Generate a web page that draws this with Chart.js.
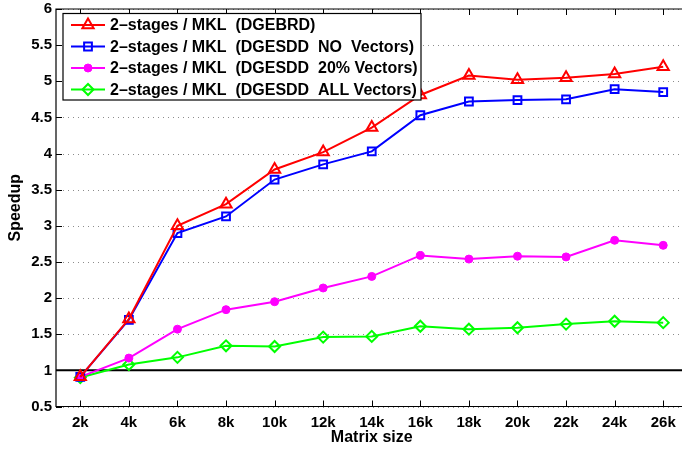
<!DOCTYPE html>
<html>
<head>
<meta charset="utf-8">
<title>Speedup</title>
<script src="https://cdn.jsdelivr.net/npm/chart.js"></script>
<style>
    html, body { margin: 0; padding: 0; background: #fff; overflow: hidden; }
    #wrap { width: 696px; height: 451px; }
</style>
</head>
<body>
<div id="wrap"><canvas id="speedupChart" width="696" height="451"></canvas></div>
<script>
// Matrix sizes (x axis) and speedup values per configuration
const sizes = ['2k', '4k', '6k', '8k', '10k', '12k', '14k', '16k', '18k', '20k', '22k', '24k', '26k'];
const gebrd = [0.91, 1.71, 3.0, 3.3, 3.78, 4.02, 4.36, 4.81, 5.08, 5.02, 5.05, 5.1, 5.2];
const noVectors = [0.91, 1.70, 2.9, 3.13, 3.64, 3.85, 4.03, 4.53, 4.72, 4.74, 4.75, 4.89, 4.85];
const vectors20 = [0.91, 1.17, 1.57, 1.84, 1.95, 2.14, 2.30, 2.59, 2.54, 2.58, 2.57, 2.80, 2.73];
const allVectors = [0.90, 1.08, 1.18, 1.34, 1.33, 1.46, 1.47, 1.61, 1.57, 1.59, 1.64, 1.68, 1.66];
const labels = [
    '2\u2013stages / MKL  (DGEBRD)',
    '2\u2013stages / MKL  (DGESDD  NO  Vectors)',
    '2\u2013stages / MKL  (DGESDD  20% Vectors)',
    '2\u2013stages / MKL  (DGESDD  ALL Vectors)'
];
const yMin = 0.5, yMax = 6, yStep = 0.5;
const baseline = 1;

const FONT = "'Liberation Sans', Arial, Helvetica, sans-serif";

// Dotted grid, box, inward tick marks and the speedup = 1 reference line
const framePlugin = {
    id: 'frame',
    beforeDatasetsDraw(chart) {
        const { ctx, chartArea: a, scales: { x, y } } = chart;
        ctx.save();

        ctx.strokeStyle = '#8c8c8c';
        ctx.lineWidth = 1;
        ctx.setLineDash([1, 4]);
        ctx.beginPath();
        y.ticks.forEach((t, i) => {
            const py = Math.round(y.getPixelForTick(i)) + 0.5;
            ctx.moveTo(a.left + 2, py);
            ctx.lineTo(a.right, py);
        });
        ctx.stroke();
        ctx.setLineDash([]);

        ctx.strokeStyle = '#000';
        ctx.lineWidth = 2;
        const yb = y.getPixelForValue(baseline);
        ctx.beginPath();
        ctx.moveTo(a.left, yb);
        ctx.lineTo(a.right, yb);
        ctx.stroke();

        ctx.lineWidth = 1.2;
        ctx.beginPath();
        ctx.moveTo(a.right + 5, a.top);
        ctx.lineTo(a.left, a.top);
        ctx.lineTo(a.left, a.bottom);
        ctx.lineTo(a.right + 5, a.bottom);
        ctx.stroke();

        ctx.lineWidth = 1;
        ctx.beginPath();
        x.ticks.forEach((t, i) => {
            const px = Math.round(x.getPixelForTick(i)) + 0.5;
            ctx.moveTo(px, a.top);
            ctx.lineTo(px, a.top + 6);
            ctx.moveTo(px, a.bottom);
            ctx.lineTo(px, a.bottom - 6);
        });
        y.ticks.forEach((t, i) => {
            const py = Math.round(y.getPixelForTick(i)) + 0.5;
            ctx.moveTo(a.left, py);
            ctx.lineTo(a.left + 6, py);
        });
        ctx.stroke();
        ctx.restore();
    }
};

// Boxed legend in the upper left corner of the plot
const legendBoxPlugin = {
    id: 'legendBox',
    afterDraw(chart) {
        const { ctx } = chart;
        const box = { left: 63, top: 13.5, right: 421, bottom: 100 };
        const rows = [25, 46.5, 68, 89.5];
        ctx.save();
        ctx.fillStyle = '#fff';
        ctx.fillRect(box.left, box.top, box.right - box.left, box.bottom - box.top);
        ctx.strokeStyle = '#000';
        ctx.lineWidth = 1.2;
        ctx.strokeRect(box.left, box.top, box.right - box.left, box.bottom - box.top);

        chart.data.datasets.forEach((ds, i) => {
            const ry = rows[i];
            ctx.strokeStyle = ds.borderColor;
            ctx.lineWidth = ds.borderWidth;
            ctx.beginPath();
            ctx.moveTo(71, ry);
            ctx.lineTo(105, ry);
            ctx.stroke();
            ctx.fillStyle = ds.pointBackgroundColor;
            ctx.strokeStyle = ds.pointBorderColor;
            ctx.lineWidth = ds.pointBorderWidth;
            Chart.helpers.drawPoint(ctx, {
                pointStyle: ds.pointStyle,
                radius: ds.pointRadius,
                rotation: 0,
                borderWidth: ds.pointBorderWidth
            }, 88, ry);

            ctx.fillStyle = '#000';
            ctx.font = 'bold 16px ' + FONT;
            ctx.textBaseline = 'middle';
            ctx.textAlign = 'left';
            ctx.fillText(labels[i], 110, ry + 1);
        });
        ctx.restore();
    }
};

function series(label, data, color, style, radius, filled) {
    return {
        label: label,
        data: data,
        borderColor: color,
        borderWidth: 2,
        pointStyle: style,
        pointRadius: radius,
        pointHoverRadius: radius,
        pointBorderWidth: filled ? 1 : 2,
        pointBorderColor: color,
        pointBackgroundColor: filled ? color : 'rgba(0,0,0,0)',
        tension: 0,
        fill: false
    };
}

function noPadding(scale) {
    scale.paddingTop = 0;
    scale.paddingBottom = 0;
    scale.paddingLeft = 0;
    scale.paddingRight = 0;
}

const ctx = document.getElementById('speedupChart').getContext('2d');
const speedupChart = new Chart(ctx, {
    type: 'line',
    data: {
        labels: sizes,
        datasets: [
            series(labels[0], gebrd, '#ff0000', 'triangle', 6.5, false),
            series(labels[1], noVectors, '#0000ff', 'rect', 5.5, false),
            series(labels[2], vectors20, '#ff00ff', 'circle', 4, true),
            series(labels[3], allVectors, '#00ff00', 'rectRot', 5.5, false)
        ]
    },
    options: {
        responsive: false,
        animation: false,
        layout: { padding: { top: 9, right: 0, left: 0, bottom: 0 } },
        plugins: {
            legend: { display: false },
            tooltip: { enabled: false }
        },
        scales: {
            x: {
                type: 'category',
                offset: true,
                grid: { display: false, drawTicks: false },
                border: { display: false },
                ticks: {
                    padding: 7,
                    color: '#000',
                    font: { family: FONT, size: 15, weight: 'bold' },
                    maxRotation: 0,
                    autoSkip: false
                },
                title: {
                    display: true,
                    text: 'Matrix size',
                    color: '#000',
                    font: { family: FONT, size: 16, weight: 'bold' },
                    padding: { top: 0, bottom: 4 }
                },
                afterFit(scale) {
                    scale.height = 44.5;
                    noPadding(scale);
                }
            },
            y: {
                min: yMin,
                max: yMax,
                grid: { display: false, drawTicks: false },
                border: { display: false },
                ticks: {
                    stepSize: yStep,
                    padding: 4,
                    color: '#000',
                    font: { family: FONT, size: 15, weight: 'bold' },
                    callback: (v) => String(Math.round(v * 10) / 10)
                },
                title: {
                    display: true,
                    text: 'Speedup',
                    color: '#000',
                    font: { family: FONT, size: 16, weight: 'bold' },
                    padding: { top: 6, bottom: 0 }
                },
                afterFit(scale) {
                    scale.width = 56;
                    noPadding(scale);
                }
            }
        }
    },
    plugins: [framePlugin, legendBoxPlugin]
});
</script>
</body>
</html>
